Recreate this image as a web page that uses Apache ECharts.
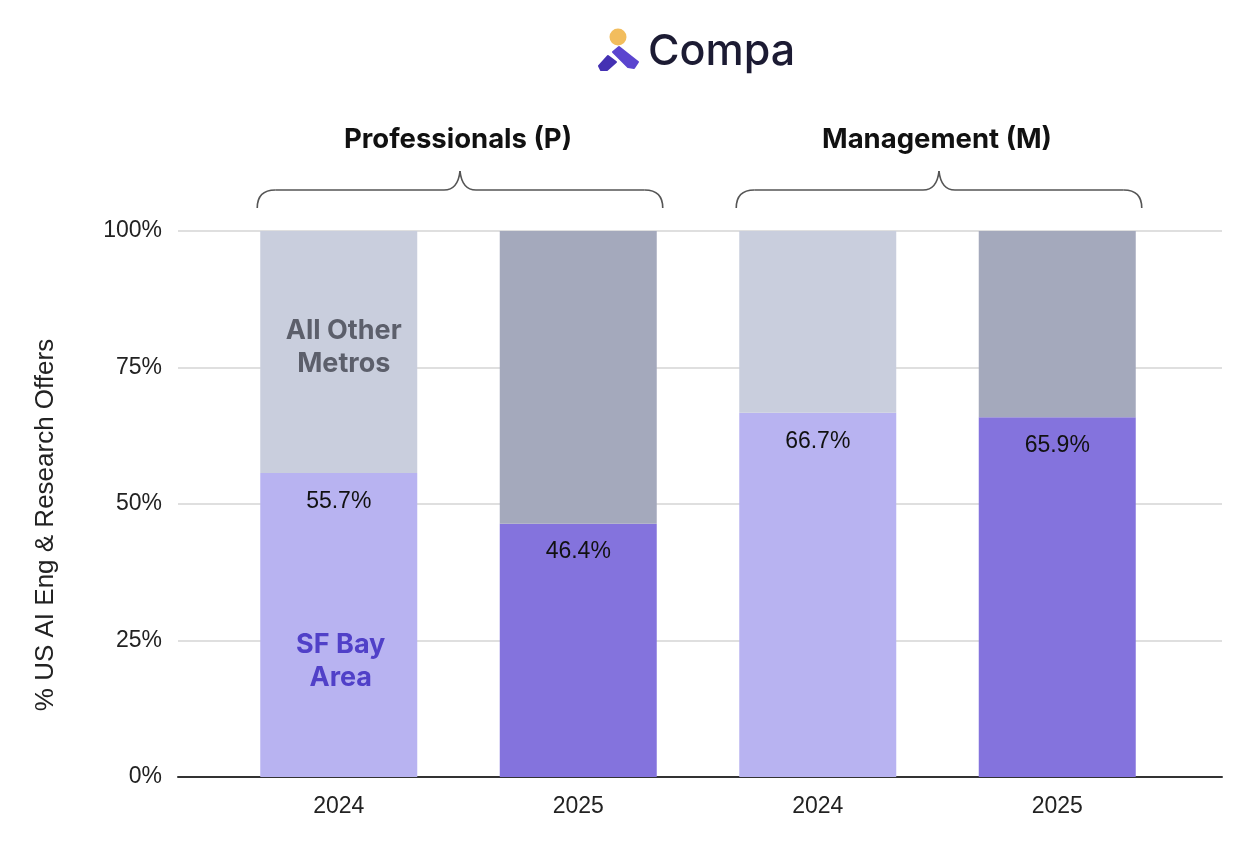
<!DOCTYPE html>
<html>
<head>
<meta charset="utf-8">
<script src="https://cdn.jsdelivr.net/npm/echarts@6/dist/echarts.min.js"></script>
<style>
html,body{margin:0;padding:0;background:#fff;}
#chart{width:1258px;height:844px;}
</style>
</head>
<body>
<div id="chart"></div>
<script>
const categories = ['2024', '2025', '2024', '2025'];
const groupTitles = ['Professionals (P)', 'Management (M)'];
const sfBayArea = [55.7, 46.4, 66.7, 65.9];
const allOtherMetros = [44.3, 53.6, 33.3, 34.1];
const yTicks = [0, 25, 50, 75, 100];
const yAxisTitle = '% US AI Eng & Research Offers';
const sfColors = ['#b8b3f1', '#8473dd', '#b8b3f1', '#8473dd'];
const otherColors = ['#c9cedd', '#a4a9bc', '#c9cedd', '#a4a9bc'];

const LABEL_FONT = '"Liberation Sans", Arial, sans-serif';
const BOLD_FONT = 'Inter, "Liberation Sans", Arial, sans-serif';

const chart = echarts.init(document.getElementById('chart'));

const option = {
  backgroundColor: '#ffffff',
  animation: false,
  grid: [
    { left: 178, right: 36, top: 231, bottom: 67 },
    { left: 219, right: 81, top: 231, bottom: 67 }
  ],
  xAxis: [
    { gridIndex: 0, type: 'value', min: 0, max: 1,
      axisLine: { show: true, onZero: false, lineStyle: { color: '#333', width: 2 } },
      axisTick: { show: false }, axisLabel: { show: false }, splitLine: { show: false } },
    { gridIndex: 1, type: 'category', data: categories,
      axisLine: { show: false }, axisTick: { show: false },
      axisLabel: { margin: 18, fontSize: 23, color: '#222', fontFamily: LABEL_FONT } }
  ],
  yAxis: [
    { gridIndex: 0, type: 'value', min: yTicks[0], max: yTicks[yTicks.length - 1], interval: 25,
      axisLine: { show: false }, axisTick: { show: false },
      axisLabel: { margin: 16, fontSize: 23, color: '#222', fontFamily: LABEL_FONT, formatter: v => v + '%' },
      splitLine: { show: true, lineStyle: { color: '#d4d4d4', width: 1.5 } } },
    { gridIndex: 1, type: 'value', min: yTicks[0], max: yTicks[yTicks.length - 1],
      show: false, splitLine: { show: false } }
  ],
  series: [
    {
      name: 'SF Bay Area', type: 'bar', stack: 'total', xAxisIndex: 1, yAxisIndex: 1,
      barWidth: 157, z: 3,
      data: sfBayArea.map((v, i) => ({ value: v, itemStyle: { color: sfColors[i] } })),
      label: { show: true, position: 'insideTop', distance: 17, fontSize: 23, color: '#111',
        fontFamily: LABEL_FONT, formatter: p => p.value.toFixed(1) + '%' }
    },
    {
      name: 'All Other Metros', type: 'bar', stack: 'total', xAxisIndex: 1, yAxisIndex: 1,
      barWidth: 157, z: 3,
      data: allOtherMetros.map((v, i) => ({
        value: v, itemStyle: { color: otherColors[i] },
        label: { show: i === 0 }
      })),
      label: { show: false, position: 'inside', offset: [5, -5], fontSize: 27, fontWeight: 'bold',
        color: '#5c5f6b', lineHeight: 33, fontFamily: BOLD_FONT, formatter: 'All Other\nMetros' }
    }
  ]
};
chart.setOption(option);

function buildGraphics() {
  const g = [];
  // Logo
  g.push({ type: 'circle', shape: { cx: 618, cy: 37, r: 8.5 }, style: { fill: '#f2bd5d' } });
  g.push({ type: 'polygon', shape: { points: [[613, 52], [619, 47], [638, 62], [634, 68], [628, 67]] },
    style: { fill: '#5b45cf', lineJoin: 'round', stroke: '#5b45cf', lineWidth: 2 } });
  g.push({ type: 'polygon', shape: { points: [[599, 66], [608, 56], [616, 62], [607, 70], [601, 70]] },
    style: { fill: '#4431b3', lineJoin: 'round', stroke: '#4431b3', lineWidth: 2 } });
  g.push({ type: 'text', x: 648, y: 52, style: { text: 'Compa', font: '500 43px Inter, sans-serif',
    fill: '#1c1b33', textAlign: 'left', textVerticalAlign: 'middle' } });

  // Y axis title
  g.push({ type: 'text', x: 46, y: 525, rotation: Math.PI / 2, style: { text: yAxisTitle,
    font: '26px ' + LABEL_FONT, fill: '#222', textAlign: 'center', textVerticalAlign: 'middle' } });

  // Group braces and titles
  const half = 78.5;
  const braceStyle = { fill: 'none', stroke: '#555', lineWidth: 1.6 };
  for (let k = 0; k < groupTitles.length; k++) {
    const a = chart.convertToPixel({ gridIndex: 1 }, [2 * k, 0]);
    const b = chart.convertToPixel({ gridIndex: 1 }, [2 * k + 1, 0]);
    const x0 = a[0] - half - 3, x1 = b[0] + half + 6;
    const xm = (x0 + x1) / 2;
    const yb = 208, yl = 190, yt = 171;
    g.push({ type: 'bezierCurve', shape: { x1: x0, y1: yb, cpx1: x0, cpy1: yl, x2: x0 + 18, y2: yl }, style: braceStyle });
    g.push({ type: 'line', shape: { x1: x0 + 18, y1: yl, x2: xm - 16, y2: yl }, style: braceStyle });
    g.push({ type: 'bezierCurve', shape: { x1: xm - 16, y1: yl, cpx1: xm - 2, cpy1: yl, x2: xm, y2: yt }, style: braceStyle });
    g.push({ type: 'bezierCurve', shape: { x1: xm, y1: yt, cpx1: xm + 2, cpy1: yl, x2: xm + 16, y2: yl }, style: braceStyle });
    g.push({ type: 'line', shape: { x1: xm + 16, y1: yl, x2: x1 - 18, y2: yl }, style: braceStyle });
    g.push({ type: 'bezierCurve', shape: { x1: x1 - 18, y1: yl, cpx1: x1, cpy1: yl, x2: x1, y2: yb }, style: braceStyle });
    g.push({ type: 'text', x: xm - 2, y: 140, style: { text: groupTitles[k], font: 'bold 27.5px ' + BOLD_FONT,
      fill: '#111', textAlign: 'center', textVerticalAlign: 'middle' } });
  }

  // SF Bay Area annotation inside first bar
  const p = chart.convertToPixel({ gridIndex: 1 }, [0, 21.2]);
  g.push({ type: 'text', x: p[0] + 2, y: p[1], z: 10, style: { text: 'SF Bay\nArea', font: 'bold 27px ' + BOLD_FONT,
    fill: '#5040c8', textAlign: 'center', textVerticalAlign: 'middle', lineHeight: 33 } });
  chart.setOption({ graphic: g });
}
buildGraphics();
</script>
</body>
</html>
